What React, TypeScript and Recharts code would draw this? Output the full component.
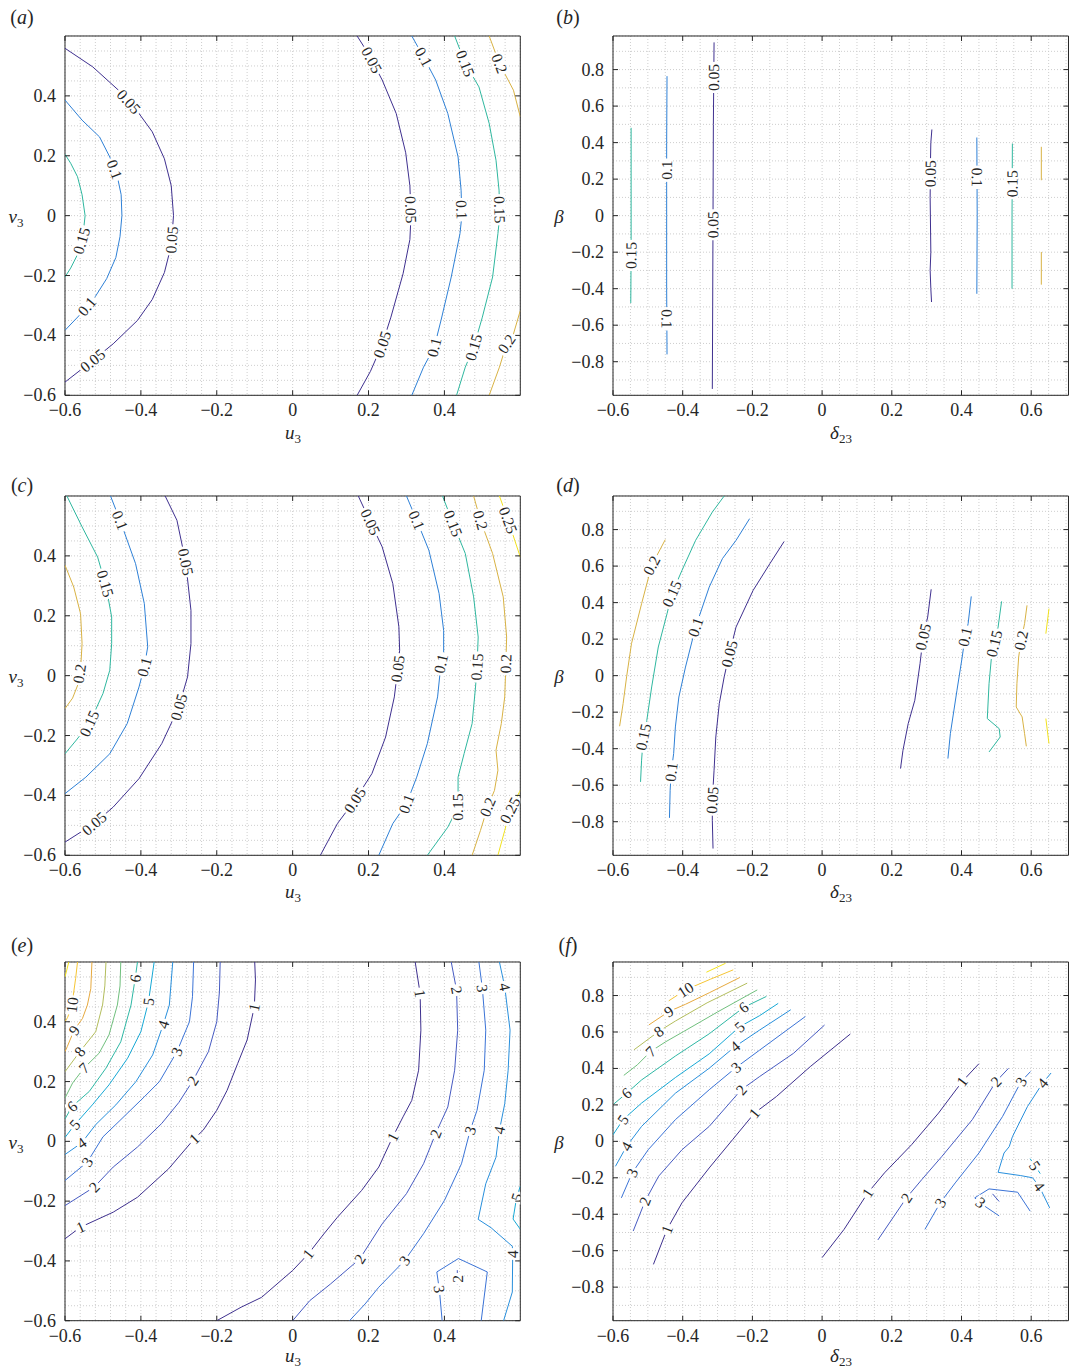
import React from 'react';
import { ScatterChart, Scatter, XAxis, YAxis, CartesianGrid } from 'recharts';

type Pt = [number, number];
type Contour = { level: string; pts: Pt[] };
type Lbl = [string, number, number];

// axis ticks
const uTicks = [-0.6, -0.4, -0.2, 0, 0.2, 0.4];
const vTicks = [-0.6, -0.4, -0.2, 0, 0.2, 0.4];
const deltaTicks = [-0.6, -0.4, -0.2, 0, 0.2, 0.4, 0.6];
const betaTicks = [-0.8, -0.6, -0.4, -0.2, 0, 0.2, 0.4, 0.6, 0.8];

// contour colours (parula-like)
const smallLevelColors: Record<string, string> = {
  '0.05': '#3e2f8f', '0.1': '#2d80d6', '0.15': '#2eb79f', '0.2': '#d8b243', '0.25': '#f1e11d',
};
const bigLevelColors: Record<string, string> = {
  '1': '#3d2f8e', '2': '#4559c1', '3': '#3a72d6', '4': '#278fdc', '5': '#16a8d5', '6': '#2db7a4',
  '7': '#6fbf7c', '8': '#b3bd5b', '9': '#e6a93e', '10': '#f5c533', '11': '#f3e21d',
};

// (a) u3 / v3
const contoursA: Contour[] = [
  { level: '0.05', pts: [[-0.6, 0.559], [-0.527, 0.497], [-0.459, 0.419], [-0.41, 0.35], [-0.37, 0.28], [-0.338, 0.19], [-0.32, 0.1], [-0.314, 0], [-0.32, -0.1], [-0.338, -0.19], [-0.37, -0.28], [-0.409, -0.35], [-0.473, -0.428], [-0.527, -0.484], [-0.6, -0.556]] },
  { level: '0.1', pts: [[-0.6, 0.386], [-0.555, 0.319], [-0.509, 0.263], [-0.482, 0.196], [-0.462, 0.13], [-0.452, 0.07], [-0.45, 0], [-0.455, -0.07], [-0.466, -0.14], [-0.49, -0.21], [-0.52, -0.27], [-0.56, -0.33], [-0.6, -0.383]] },
  { level: '0.15', pts: [[-0.6, 0.205], [-0.585, 0.175], [-0.567, 0.13], [-0.555, 0.07], [-0.547, 0], [-0.553, -0.07], [-0.567, -0.13], [-0.585, -0.175], [-0.6, -0.205]] },
  { level: '0.05', pts: [[0.17, 0.6], [0.2, 0.54], [0.236, 0.453], [0.273, 0.341], [0.298, 0.21], [0.309, 0.1], [0.312, 0], [0.309, -0.08], [0.291, -0.194], [0.259, -0.339], [0.236, -0.43], [0.205, -0.52], [0.17, -0.6]] },
  { level: '0.1', pts: [[0.314, 0.6], [0.345, 0.53], [0.377, 0.453], [0.409, 0.341], [0.436, 0.196], [0.444, 0.085], [0.446, 0], [0.441, -0.06], [0.418, -0.205], [0.391, -0.35], [0.373, -0.44], [0.345, -0.506], [0.314, -0.6]] },
  { level: '0.15', pts: [[0.427, 0.6], [0.455, 0.508], [0.491, 0.43], [0.518, 0.308], [0.536, 0.185], [0.544, 0.085], [0.546, 0], [0.541, -0.06], [0.527, -0.205], [0.5, -0.339], [0.477, -0.44], [0.455, -0.506], [0.432, -0.6]] },
  { level: '0.2', pts: [[0.518, 0.6], [0.545, 0.508], [0.582, 0.419], [0.6, 0.33]] },
  { level: '0.2', pts: [[0.6, -0.317], [0.582, -0.395], [0.564, -0.428], [0.545, -0.506], [0.518, -0.6]] },
];
const labelsA: Lbl[] = [
  ['0.05', -0.427, 0.386], ['0.05', -0.327, -0.08], ['0.05', -0.527, -0.484], ['0.1', -0.464, 0.157],
  ['0.1', -0.545, -0.3], ['0.15', -0.562, -0.082], ['0.05', 0.209, 0.52], ['0.05', 0.312, 0.02],
  ['0.05', 0.236, -0.43], ['0.1', 0.345, 0.53], ['0.1', 0.446, 0.02], ['0.1', 0.373, -0.44],
  ['0.15', 0.455, 0.508], ['0.15', 0.546, 0.02], ['0.15', 0.477, -0.44], ['0.2', 0.545, 0.508], ['0.2', 0.564, -0.428],
];

// (b) delta23 / beta
const contoursB: Contour[] = [
  { level: '0.15', pts: [[-0.548, 0.481], [-0.548, 0.2], [-0.548, -0.2], [-0.549, -0.479]] },
  { level: '0.1', pts: [[-0.445, 0.764], [-0.446, 0.4], [-0.446, 0], [-0.446, -0.4], [-0.445, -0.76]] },
  { level: '0.05', pts: [[-0.31, 0.949], [-0.312, 0.5], [-0.313, 0], [-0.314, -0.5], [-0.315, -0.949]] },
  { level: '0.05', pts: [[0.315, 0.472], [0.312, 0.4], [0.311, 0.3], [0.31, 0.1], [0.312, -0.2], [0.31, -0.3], [0.312, -0.4], [0.314, -0.473]] },
  { level: '0.1', pts: [[0.444, 0.428], [0.445, 0], [0.444, -0.428]] },
  { level: '0.15', pts: [[0.546, 0.395], [0.545, 0], [0.545, -0.4]] },
  { level: '0.2', pts: [[0.629, 0.377], [0.629, 0.194]] },
  { level: '0.2', pts: [[0.629, -0.199], [0.629, -0.378]] },
];
const labelsB: Lbl[] = [
  ['0.15', -0.548, -0.218], ['0.1', -0.445, 0.249], ['0.1', -0.445, -0.565], ['0.05', -0.312, 0.757],
  ['0.05', -0.313, -0.05], ['0.05', 0.311, 0.23], ['0.1', 0.445, 0.21], ['0.15', 0.546, 0.175],
];

// (c) u3 / v3
const contoursC: Contour[] = [
  { level: '0.2', pts: [[-0.6, 0.369], [-0.577, 0.296], [-0.559, 0.207], [-0.555, 0.107], [-0.558, 0.04], [-0.566, -0.03], [-0.58, -0.075], [-0.6, -0.11]] },
  { level: '0.15', pts: [[-0.595, 0.6], [-0.555, 0.497], [-0.514, 0.396], [-0.492, 0.3], [-0.477, 0.196], [-0.477, 0.107], [-0.482, 0.018], [-0.5, -0.06], [-0.536, -0.16], [-0.57, -0.215], [-0.6, -0.261]] },
  { level: '0.1', pts: [[-0.48, 0.6], [-0.455, 0.519], [-0.414, 0.374], [-0.391, 0.241], [-0.382, 0.096], [-0.391, 0.029], [-0.405, -0.038], [-0.436, -0.16], [-0.482, -0.261], [-0.545, -0.339], [-0.6, -0.394]] },
  { level: '0.05', pts: [[-0.336, 0.6], [-0.305, 0.519], [-0.282, 0.38], [-0.268, 0.218], [-0.268, 0.107], [-0.277, -0.004], [-0.3, -0.105], [-0.345, -0.227], [-0.405, -0.344], [-0.473, -0.439], [-0.523, -0.494], [-0.6, -0.556]] },
  { level: '0.05', pts: [[0.173, 0.6], [0.205, 0.513], [0.236, 0.43], [0.264, 0.307], [0.28, 0.163], [0.282, 0.085], [0.277, 0.023], [0.268, -0.071], [0.245, -0.205], [0.209, -0.327], [0.164, -0.416], [0.118, -0.494], [0.073, -0.6]] },
  { level: '0.1', pts: [[0.3, 0.6], [0.327, 0.519], [0.359, 0.419], [0.386, 0.274], [0.398, 0.151], [0.398, 0.079], [0.391, 0.04], [0.382, -0.071], [0.355, -0.227], [0.327, -0.339], [0.3, -0.428], [0.264, -0.494], [0.227, -0.6]] },
  { level: '0.15', pts: [[0.395, 0.6], [0.423, 0.508], [0.455, 0.408], [0.477, 0.263], [0.489, 0.129], [0.486, 0.029], [0.482, -0.038], [0.473, -0.16], [0.452, -0.26], [0.436, -0.339], [0.436, -0.439], [0.409, -0.506], [0.355, -0.6]] },
  { level: '0.2', pts: [[0.477, 0.6], [0.495, 0.519], [0.527, 0.408], [0.555, 0.263], [0.564, 0.129], [0.562, 0.04], [0.559, -0.071], [0.55, -0.16], [0.536, -0.249], [0.541, -0.316], [0.532, -0.383], [0.514, -0.439], [0.495, -0.517], [0.473, -0.6]] },
  { level: '0.25', pts: [[0.545, 0.6], [0.568, 0.519], [0.6, 0.396]] },
  { level: '0.25', pts: [[0.6, -0.383], [0.573, -0.45], [0.559, -0.517], [0.541, -0.6]] },
];
const labelsC: Lbl[] = [
  ['0.2', -0.562, 0.007], ['0.15', -0.495, 0.307], ['0.15', -0.536, -0.16], ['0.1', -0.455, 0.519],
  ['0.1', -0.391, 0.029], ['0.05', -0.282, 0.38], ['0.05', -0.3, -0.105], ['0.05', -0.523, -0.494],
  ['0.05', 0.205, 0.513], ['0.05', 0.277, 0.023], ['0.05', 0.164, -0.416], ['0.1', 0.327, 0.519],
  ['0.1', 0.391, 0.04], ['0.1', 0.3, -0.428], ['0.15', 0.423, 0.508], ['0.15', 0.486, 0.029],
  ['0.15', 0.436, -0.439], ['0.2', 0.495, 0.519], ['0.2', 0.562, 0.04], ['0.2', 0.514, -0.439],
  ['0.25', 0.568, 0.519], ['0.25', 0.573, -0.45],
];

// (d) delta23 / beta
const contoursD: Contour[] = [
  { level: '0.2', pts: [[-0.45, 0.745], [-0.489, 0.604], [-0.518, 0.394], [-0.547, 0.175], [-0.561, -0.007], [-0.571, -0.153], [-0.581, -0.277]] },
  { level: '0.15', pts: [[-0.281, 0.984], [-0.315, 0.896], [-0.363, 0.741], [-0.402, 0.577], [-0.431, 0.449], [-0.445, 0.339], [-0.47, 0.157], [-0.489, -0.062], [-0.503, -0.245], [-0.513, -0.336], [-0.518, -0.463], [-0.521, -0.582]] },
  { level: '0.1', pts: [[-0.208, 0.86], [-0.247, 0.741], [-0.286, 0.641], [-0.324, 0.485], [-0.363, 0.266], [-0.392, 0.047], [-0.411, -0.117], [-0.421, -0.281], [-0.426, -0.427], [-0.433, -0.527], [-0.436, -0.628], [-0.438, -0.779]] },
  { level: '0.05', pts: [[-0.109, 0.735], [-0.15, 0.613], [-0.198, 0.467], [-0.247, 0.266], [-0.266, 0.12], [-0.281, -0.007], [-0.295, -0.153], [-0.305, -0.336], [-0.31, -0.518], [-0.315, -0.682], [-0.315, -0.792], [-0.313, -0.947]] },
  { level: '0.05', pts: [[0.313, 0.473], [0.303, 0.321], [0.29, 0.212], [0.281, 0.066], [0.266, -0.135], [0.247, -0.263], [0.232, -0.409], [0.225, -0.509]] },
  { level: '0.1', pts: [[0.428, 0.434], [0.419, 0.285], [0.41, 0.212], [0.402, 0.102], [0.387, -0.08], [0.368, -0.318], [0.361, -0.454]] },
  { level: '0.15', pts: [[0.515, 0.407], [0.505, 0.266], [0.494, 0.175], [0.486, 0.102], [0.479, -0.044], [0.474, -0.235], [0.508, -0.29], [0.511, -0.336], [0.479, -0.418]] },
  { level: '0.2', pts: [[0.588, 0.385], [0.581, 0.285], [0.571, 0.193], [0.564, 0.102], [0.559, -0.044], [0.557, -0.172], [0.574, -0.226], [0.581, -0.318], [0.586, -0.387]] },
  { level: '0.25', pts: [[0.651, 0.367], [0.642, 0.23]] },
  { level: '0.25', pts: [[0.642, -0.235], [0.651, -0.372]] },
];
const labelsD: Lbl[] = [
  ['0.2', -0.489, 0.604], ['0.15', -0.431, 0.449], ['0.15', -0.513, -0.336], ['0.1', -0.363, 0.266],
  ['0.1', -0.433, -0.527], ['0.05', -0.266, 0.12], ['0.05', -0.315, -0.682], ['0.05', 0.29, 0.212],
  ['0.1', 0.41, 0.212], ['0.15', 0.494, 0.175], ['0.2', 0.571, 0.193],
];

// (e) u3 / v3
const contoursE: Contour[] = [
  { level: '11', pts: [[-0.59, 0.6], [-0.6, 0.55]] },
  { level: '10', pts: [[-0.567, 0.6], [-0.572, 0.545], [-0.578, 0.49], [-0.581, 0.456], [-0.593, 0.415], [-0.6, 0.4]] },
  { level: '9', pts: [[-0.529, 0.6], [-0.532, 0.511], [-0.541, 0.456], [-0.554, 0.411], [-0.576, 0.372], [-0.594, 0.317], [-0.6, 0.3]] },
  { level: '8', pts: [[-0.492, 0.6], [-0.495, 0.52], [-0.501, 0.456], [-0.519, 0.367], [-0.561, 0.3], [-0.6, 0.233]] },
  { level: '7', pts: [[-0.453, 0.6], [-0.455, 0.52], [-0.462, 0.456], [-0.484, 0.356], [-0.51, 0.295], [-0.55, 0.245], [-0.58, 0.195], [-0.6, 0.145]] },
  { level: '6', pts: [[-0.409, 0.6], [-0.415, 0.545], [-0.426, 0.456], [-0.453, 0.333], [-0.492, 0.245], [-0.536, 0.167], [-0.581, 0.117], [-0.6, 0.075]] },
  { level: '5', pts: [[-0.365, 0.6], [-0.38, 0.467], [-0.4, 0.367], [-0.435, 0.278], [-0.484, 0.189], [-0.528, 0.122], [-0.574, 0.056], [-0.6, 0.013]] },
  { level: '4', pts: [[-0.316, 0.6], [-0.325, 0.456], [-0.341, 0.391], [-0.369, 0.289], [-0.413, 0.2], [-0.466, 0.122], [-0.519, 0.056], [-0.556, -0.005], [-0.6, -0.044]] },
  { level: '3', pts: [[-0.261, 0.6], [-0.264, 0.484], [-0.272, 0.4], [-0.305, 0.3], [-0.351, 0.2], [-0.391, 0.149], [-0.455, 0.07], [-0.5, 0.015], [-0.541, -0.069], [-0.6, -0.131]] },
  { level: '2', pts: [[-0.191, 0.6], [-0.193, 0.5], [-0.2, 0.4], [-0.222, 0.3], [-0.262, 0.205], [-0.3, 0.13], [-0.345, 0.06], [-0.409, -0.019], [-0.473, -0.086], [-0.523, -0.153], [-0.6, -0.215]] },
  { level: '1', pts: [[-0.1, 0.6], [-0.098, 0.54], [-0.101, 0.45], [-0.12, 0.339], [-0.145, 0.26], [-0.173, 0.17], [-0.2, 0.104], [-0.236, 0.037], [-0.259, 0.009], [-0.327, -0.092], [-0.409, -0.187], [-0.473, -0.237], [-0.559, -0.287], [-0.6, -0.326]] },
  { level: '1', pts: [[0.323, 0.6], [0.336, 0.495], [0.338, 0.372], [0.332, 0.238], [0.314, 0.137], [0.291, 0.082], [0.264, 0.015], [0.227, -0.086], [0.182, -0.164], [0.118, -0.254], [0.082, -0.31], [0.041, -0.377], [0, -0.432], [-0.082, -0.522], [-0.136, -0.555], [-0.2, -0.6]] },
  { level: '2', pts: [[0.418, 0.6], [0.432, 0.506], [0.435, 0.372], [0.427, 0.238], [0.409, 0.115], [0.377, 0.026], [0.345, -0.075], [0.3, -0.175], [0.236, -0.276], [0.177, -0.393], [0.1, -0.477], [0.045, -0.533], [0, -0.6]] },
  { level: '3', pts: [[0.491, 0.6], [0.5, 0.512], [0.509, 0.372], [0.505, 0.238], [0.486, 0.104], [0.468, 0.037], [0.445, -0.075], [0.4, -0.198], [0.345, -0.309], [0.295, -0.399], [0.227, -0.488], [0.191, -0.544], [0.15, -0.6]] },
  { level: '4', pts: [[0.545, 0.6], [0.559, 0.517], [0.573, 0.372], [0.568, 0.238], [0.559, 0.126], [0.545, 0.037], [0.536, -0.053], [0.509, -0.142], [0.489, -0.261], [0.523, -0.289], [0.579, -0.351], [0.58, -0.369], [0.579, -0.504], [0.556, -0.6]] },
  { level: '5', pts: [[0.6, -0.15], [0.59, -0.19], [0.581, -0.26], [0.6, -0.294]] },
  { level: '3', pts: [[0.394, -0.6], [0.387, -0.5], [0.38, -0.437], [0.437, -0.392], [0.513, -0.437], [0.497, -0.6]] },
  { level: '2', pts: [[0.434, -0.431], [0.434, -0.48]] },
];
const labelsE: Lbl[] = [
  ['1', -0.109, 0.45], ['1', -0.259, 0.009], ['1', -0.559, -0.287], ['2', -0.264, 0.204], ['2', -0.523, -0.153],
  ['3', -0.305, 0.3], ['3', -0.541, -0.069], ['4', -0.341, 0.391], ['4', -0.556, -0.005], ['5', -0.38, 0.467],
  ['5', -0.574, 0.056], ['6', -0.415, 0.545], ['6', -0.581, 0.117], ['7', -0.55, 0.245], ['8', -0.561, 0.3],
  ['9', -0.576, 0.372], ['10', -0.581, 0.456],
  ['1', 0.336, 0.495], ['1', 0.264, 0.015], ['1', 0.041, -0.377], ['2', 0.432, 0.506], ['2', 0.377, 0.026],
  ['2', 0.177, -0.393], ['3', 0.5, 0.512], ['3', 0.468, 0.037], ['3', 0.295, -0.399], ['3', 0.387, -0.494],
  ['2', 0.434, -0.46], ['4', 0.559, 0.517], ['4', 0.545, 0.037], ['4', 0.58, -0.377], ['5', 0.591, -0.187],
];

// (f) delta23 / beta
const contoursF: Contour[] = [
  { level: '1', pts: [[-0.484, -0.675], [-0.445, -0.483], [-0.402, -0.337], [-0.324, -0.146], [-0.257, 0.009], [-0.194, 0.155], [-0.131, 0.246], [-0.034, 0.41], [0.081, 0.589]] },
  { level: '2', pts: [[-0.542, -0.492], [-0.508, -0.328], [-0.469, -0.191], [-0.402, -0.046], [-0.324, 0.082], [-0.232, 0.283], [-0.179, 0.356], [-0.082, 0.483], [0.007, 0.638]] },
  { level: '3', pts: [[-0.576, -0.31], [-0.545, -0.173], [-0.499, -0.046], [-0.421, 0.119], [-0.324, 0.283], [-0.247, 0.405], [-0.179, 0.501], [-0.048, 0.685]] },
  { level: '4', pts: [[-0.593, -0.137], [-0.561, -0.027], [-0.518, 0.082], [-0.421, 0.264], [-0.324, 0.401], [-0.25, 0.52], [-0.179, 0.611], [-0.09, 0.722]] },
  { level: '5', pts: [[-0.6, 0.036], [-0.571, 0.119], [-0.518, 0.21], [-0.421, 0.35], [-0.324, 0.48], [-0.237, 0.628], [-0.179, 0.69], [-0.126, 0.757]] },
  { level: '6', pts: [[-0.597, 0.206], [-0.561, 0.264], [-0.518, 0.337], [-0.421, 0.468], [-0.324, 0.59], [-0.225, 0.735], [-0.16, 0.795]] },
  { level: '7', pts: [[-0.569, 0.362], [-0.53, 0.42], [-0.492, 0.493], [-0.45, 0.545], [-0.397, 0.603], [-0.3, 0.71], [-0.186, 0.831]] },
  { level: '8', pts: [[-0.54, 0.502], [-0.469, 0.603], [-0.421, 0.66], [-0.33, 0.76], [-0.215, 0.868]] },
  { level: '9', pts: [[-0.497, 0.639], [-0.44, 0.712], [-0.392, 0.752], [-0.324, 0.815], [-0.236, 0.899]] },
  { level: '10', pts: [[-0.44, 0.771], [-0.392, 0.831], [-0.32, 0.89], [-0.255, 0.941]] },
  { level: '11', pts: [[-0.332, 0.928], [-0.277, 0.977]] },
  { level: '1', pts: [[0, -0.638], [0.063, -0.483], [0.131, -0.283], [0.179, -0.173], [0.257, -0.018], [0.334, 0.155], [0.402, 0.328], [0.45, 0.426]] },
  { level: '2', pts: [[0.16, -0.541], [0.242, -0.31], [0.286, -0.21], [0.344, -0.082], [0.431, 0.119], [0.499, 0.328], [0.535, 0.401]] },
  { level: '3', pts: [[0.295, -0.483], [0.339, -0.337], [0.382, -0.228], [0.45, -0.064], [0.518, 0.137], [0.571, 0.328], [0.598, 0.383]] },
  { level: '4', pts: [[0.657, 0.375], [0.633, 0.32], [0.589, 0.19], [0.546, 0.025], [0.537, -0.029], [0.522, -0.064], [0.505, -0.17], [0.57, -0.188], [0.604, -0.2], [0.623, -0.247], [0.653, -0.365]] },
  { level: '5', pts: [[0.597, -0.095], [0.626, -0.177]] },
  { level: '3', pts: [[0.508, -0.409], [0.47, -0.36], [0.438, -0.31], [0.479, -0.261], [0.561, -0.279], [0.597, -0.383]] },
  { level: '2', pts: [[0.489, -0.288], [0.508, -0.33]] },
];
const labelsF: Lbl[] = [
  ['1', -0.445, -0.483], ['1', -0.194, 0.155], ['2', -0.508, -0.328], ['2', -0.232, 0.283], ['3', -0.545, -0.173],
  ['3', -0.247, 0.405], ['4', -0.561, -0.027], ['4', -0.25, 0.52], ['5', -0.571, 0.119], ['5', -0.237, 0.628],
  ['6', -0.561, 0.264], ['6', -0.225, 0.735], ['7', -0.492, 0.493], ['8', -0.469, 0.603], ['9', -0.44, 0.712],
  ['10', -0.392, 0.831],
  ['1', 0.131, -0.283], ['1', 0.402, 0.328], ['2', 0.242, -0.31], ['2', 0.499, 0.328], ['3', 0.339, -0.337],
  ['3', 0.571, 0.328], ['4', 0.633, 0.32], ['4', 0.623, -0.247], ['5', 0.601, -0.146], ['3', 0.455, -0.335],
];

const range = (start: number, step: number, n: number) =>
  Array.from({ length: n }, (_, i) => Math.round((start + i * step) * 1000) / 1000);

// minor grid positions
const uGrid = range(-0.6, 0.04, 31);
const vGrid = range(-0.6, 0.05, 25);
const deltaGrid = range(-0.6, 0.05, 27);
const betaGrid = range(-0.9, 0.1, 19);

const SERIF = 'Liberation Serif, serif';
const FRAME = '#262626';
const LABEL_SIZE = 15.5;

const fmt = (v: number) => {
  const r = Math.round(v * 10) / 10;
  if (r === 0) return '0';
  return (r < 0 ? '\u2212' : '') + Math.abs(r).toString();
};
const isMajor = (v: number, major: number[]) => major.some((m) => Math.abs(m - v) < 1e-6);

const bottomTick = (major: number[]) => (p: any) => {
  const v = p.payload.value;
  if (!isMajor(v, major)) return <g />;
  return (
    <g>
      <line x1={p.x} y1={p.y} x2={p.x} y2={p.y - 5} stroke={FRAME} />
      <text x={p.x} y={p.y + 21} textAnchor="middle" fontFamily={SERIF} fontSize={18} fill={FRAME}>{fmt(v)}</text>
    </g>
  );
};
const leftTick = (major: number[]) => (p: any) => {
  const v = p.payload.value;
  if (!isMajor(v, major)) return <g />;
  return (
    <g>
      <line x1={p.x} y1={p.y} x2={p.x + 5} y2={p.y} stroke={FRAME} />
      <text x={p.x - 9} y={p.y + 6} textAnchor="end" fontFamily={SERIF} fontSize={18} fill={FRAME}>{fmt(v)}</text>
    </g>
  );
};
const topTick = (p: any) => <line x1={p.x} y1={p.y} x2={p.x} y2={p.y + 5} stroke={FRAME} />;
const rightTick = (p: any) => <line x1={p.x} y1={p.y} x2={p.x - 5} y2={p.y} stroke={FRAME} />;

const noDot = () => <g />;

const LabelMark = (p: any) => {
  const d = p.payload ?? p;
  const { cx, cy } = p;
  const w = String(d.t).split('').reduce((s: number, ch: string) => s + (ch === '.' ? 0.25 : 0.5) * LABEL_SIZE, 0) + 4;
  return (
    <g transform={`translate(${cx},${cy}) rotate(${d.angle})`}>
      <rect x={-w / 2} y={-6} width={w} height={12} fill="#fff" />
      <text x={0} y={0} dy="0.34em" textAnchor="middle" fontFamily={SERIF} fontSize={LABEL_SIZE} fill={FRAME}>{d.t}</text>
    </g>
  );
};

// snap each label onto its contour and turn it along the line (pixel space)
function placeLabels(labels: Lbl[], contours: Contour[], sx: number, sy: number) {
  return labels.map(([t, x, y]) => {
    let best = { d: Infinity, x, y, ang: 0 };
    contours.filter((c) => c.level === t).forEach((c) => {
      for (let i = 0; i < c.pts.length - 1; i++) {
        const ax = c.pts[i][0] * sx, ay = -c.pts[i][1] * sy;
        const bx = c.pts[i + 1][0] * sx, by = -c.pts[i + 1][1] * sy;
        const px = x * sx, py = -y * sy;
        const dx = bx - ax, dy = by - ay;
        const L2 = dx * dx + dy * dy || 1;
        const u = Math.max(0, Math.min(1, ((px - ax) * dx + (py - ay) * dy) / L2));
        const qx = ax + u * dx, qy = ay + u * dy;
        const dd = (qx - px) ** 2 + (qy - py) ** 2;
        if (dd < best.d) best = { d: dd, x: qx / sx, y: -qy / sy, ang: (Math.atan2(dy, dx) * 180) / Math.PI };
      }
    });
    let a = best.ang;
    if (a >= 90) a -= 180;
    if (a < -90) a += 180;
    return { t, x: best.x, y: best.y, angle: a };
  });
}

type Box = { l: number; t: number; r: number; b: number };

function Panel(props: {
  box: Box; xd: [number, number]; yd: [number, number]; xMajor: number[]; yMajor: number[];
  xGrid: number[]; yGrid: number[]; contours: Contour[]; labels: Lbl[]; colors: Record<string, string>;
}) {
  const { box, xd, yd, xMajor, yMajor, xGrid, yGrid, contours, labels, colors } = props;
  // outer room round the plot; each axis band is 1px thick
  const ML = 70, MR = 12, MT = 12, MB = 50, AX = 1;
  const pw = box.r - box.l, ph = box.b - box.t;
  const sx = pw / (xd[1] - xd[0]), sy = ph / (yd[1] - yd[0]);
  const marks = placeLabels(labels, contours, sx, sy);
  return (
    <div style={{ position: 'absolute', left: box.l - ML, top: box.t - MT }}>
      <ScatterChart width={pw + ML + MR} height={ph + MT + MB}
        margin={{ top: MT - AX, right: MR - AX, bottom: MB - AX, left: ML - AX }}>
        <CartesianGrid stroke="#cdcdcd" strokeDasharray="1 2" />
        <XAxis type="number" dataKey="x" domain={xd} allowDataOverflow ticks={xGrid} interval={0} height={AX}
          tickSize={0} tickMargin={0} tickLine={false} axisLine={{ stroke: FRAME }} tick={bottomTick(xMajor)} />
        <XAxis xAxisId="top" orientation="top" type="number" dataKey="x" domain={xd} allowDataOverflow ticks={xMajor}
          interval={0} height={AX} tickSize={0} tickMargin={0} tickLine={false} axisLine={{ stroke: FRAME }} tick={topTick} />
        <YAxis type="number" dataKey="y" domain={yd} allowDataOverflow ticks={yGrid} interval={0} width={AX}
          tickSize={0} tickMargin={0} tickLine={false} axisLine={{ stroke: FRAME }} tick={leftTick(yMajor)} />
        <YAxis yAxisId="right" orientation="right" type="number" dataKey="y" domain={yd} allowDataOverflow ticks={yMajor}
          interval={0} width={AX} tickSize={0} tickMargin={0} tickLine={false} axisLine={{ stroke: FRAME }} tick={rightTick} />
        {contours.map((c, i) => (
          <Scatter key={i} data={c.pts.map(([x, y]) => ({ x, y }))} line={{ stroke: colors[c.level], strokeWidth: 1 }}
            shape={noDot} isAnimationActive={false} />
        ))}
        <Scatter data={marks} shape={LabelMark} isAnimationActive={false} />
      </ScatterChart>
    </div>
  );
}

const Txt = ({ x, y, size = 19, children }: { x: number; y: number; size?: number; children: React.ReactNode }) => (
  <div style={{ position: 'absolute', left: x, top: y, transform: 'translate(-50%,-50%)', fontFamily: SERIF,
    fontSize: size, color: FRAME, whiteSpace: 'nowrap', lineHeight: 1 }}>{children}</div>
);
const Sub = ({ children }: { children: React.ReactNode }) => (
  <span style={{ fontSize: 13, fontStyle: 'normal', position: 'relative', top: 4 }}>{children}</span>
);
const U3 = () => (<span><i>u</i><Sub>3</Sub></span>);
const V3 = () => (<span><i>v</i><Sub>3</Sub></span>);
const D23 = () => (<span><i>δ</i><Sub>23</Sub></span>);
const B = () => (<i>β</i>);
const Tag = ({ c }: { c: string }) => (<span>(<i>{c}</i>)</span>);

const uvX: [number, number] = [-0.6, 0.6];
const uvY: [number, number] = [-0.6, 0.6];
const dbX: [number, number] = [-0.6, 0.707];
const dbY: [number, number] = [-0.984, 0.984];

export default function App() {
  const rows = [
    { t: 35.7, b: 395, lab: 432, side: 216, tag: 17 },
    { t: 495.7, b: 855, lab: 891, side: 676, tag: 485 },
    { t: 962.3, b: 1321, lab: 1355, side: 1142, tag: 945 },
  ];
  const left = { l: 65.4, r: 520.7 };
  const right = { l: 612.5, r: 1068 };
  const sets = [
    [contoursA, labelsA, contoursB, labelsB, smallLevelColors, 'a', 'b'],
    [contoursC, labelsC, contoursD, labelsD, smallLevelColors, 'c', 'd'],
    [contoursE, labelsE, contoursF, labelsF, bigLevelColors, 'e', 'f'],
  ] as const;
  return (
    <div style={{ position: 'absolute', left: 0, top: 0, width: 1069, height: 1369, background: '#fff' }}>
      {rows.map((row, i) => {
        const [cl, ll, cr, lr, colors, tl, tr] = sets[i];
        return (
          <React.Fragment key={i}>
            <Panel box={{ l: left.l, r: left.r, t: row.t, b: row.b }} xd={uvX} yd={uvY} xMajor={uTicks} yMajor={vTicks}
              xGrid={uGrid} yGrid={vGrid} contours={cl as Contour[]} labels={ll as Lbl[]} colors={colors as Record<string, string>} />
            <Panel box={{ l: right.l, r: right.r, t: row.t, b: row.b }} xd={dbX} yd={dbY} xMajor={deltaTicks} yMajor={betaTicks}
              xGrid={deltaGrid} yGrid={betaGrid} contours={cr as Contour[]} labels={lr as Lbl[]} colors={colors as Record<string, string>} />
            <Txt x={22} y={row.tag} size={20}><Tag c={tl} /></Txt>
            <Txt x={568} y={row.tag} size={20}><Tag c={tr} /></Txt>
            <Txt x={293} y={row.lab}><U3 /></Txt>
            <Txt x={16} y={row.side}><V3 /></Txt>
            <Txt x={841} y={row.lab}><D23 /></Txt>
            <Txt x={559} y={row.side}><B /></Txt>
          </React.Fragment>
        );
      })}
    </div>
  );
}
